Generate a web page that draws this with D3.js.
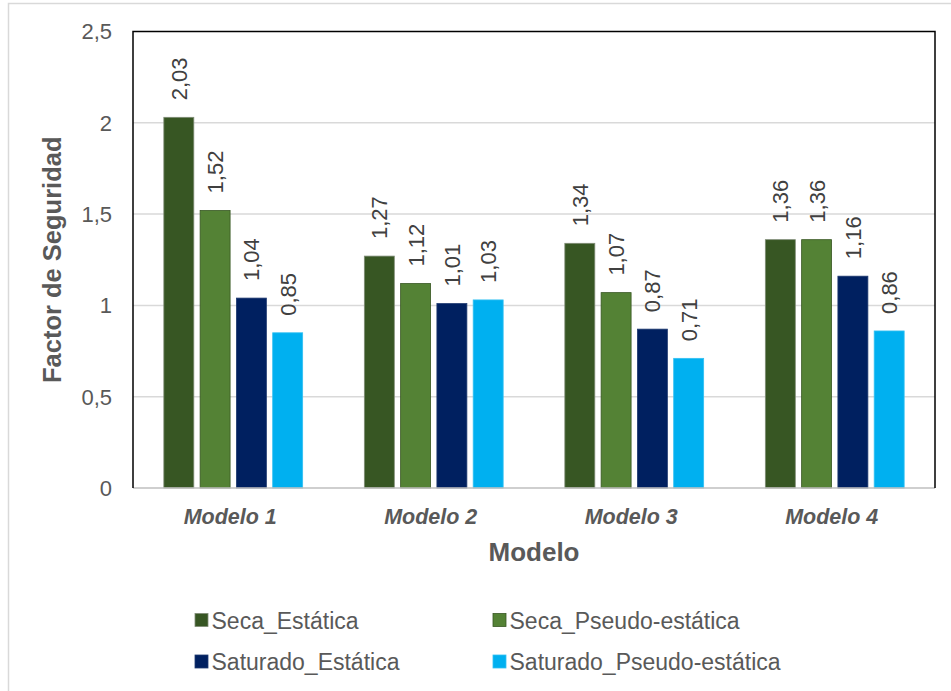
<!DOCTYPE html>
<html>
<head>
<meta charset="utf-8">
<script src="https://cdn.jsdelivr.net/npm/d3@7"></script>
<style>
  body { margin: 0; background: #fff; }
  svg { font-family: "Liberation Sans", Arial, sans-serif; }
</style>
</head>
<body>
<div class="chart"></div>
<script>
// chart data
var modelos = ["Modelo 1", "Modelo 2", "Modelo 3", "Modelo 4"];
var series = ["Seca_Estática", "Seca_Pseudo-estática", "Saturado_Estática", "Saturado_Pseudo-estática"];
var secaEstatica = [2.03, 1.27, 1.34, 1.36];
var secaPseudo = [1.52, 1.12, 1.07, 1.36];
var saturadoEstatica = [1.04, 1.01, 0.87, 1.16];
var saturadoPseudo = [0.85, 1.03, 0.71, 0.86];
var yTicks = [0, 0.5, 1, 1.5, 2, 2.5];

var colores = ["#375623", "#548235", "#002060", "#00B0F0"];
var bordes = ["#7f8c76", "#385723", "#1f3a70", "#33c0f2"];

var valores = [secaEstatica, secaPseudo, saturadoEstatica, saturadoPseudo];

var W = 951, H = 691;
// plot area edges (note: "top" is reserved on window, so use pTop etc)
var pLeft = 133, pRight = 935, pTop = 31.5, pBottom = 488;

var svg = d3.select("div.chart").append("svg")
    .attr("width", W)
    .attr("height", H);

// outer frame (cut by the window on the right / bottom)
svg.append("rect")
    .attr("x", 8.5).attr("y", 3.5)
    .attr("width", 1000).attr("height", 1000)
    .attr("fill", "none")
    .attr("stroke", "#d9d9d9")
    .attr("stroke-width", 1.5);

var x0 = d3.scaleBand().domain(modelos).range([pLeft, pRight]);
var x1 = d3.scaleBand().domain(series).range([0, x0.bandwidth()])
    .paddingInner(0.174).paddingOuter(0.85);
var y = d3.scaleLinear().domain([0, 2.5]).range([pBottom, pTop]);

// gridlines
svg.append("g").selectAll("line")
    .data(yTicks.filter(function(d){ return d > 0 && d < 2.5; }))
    .enter().append("line")
    .attr("x1", pLeft).attr("x2", pRight)
    .attr("y1", function(d){ return y(d); })
    .attr("y2", function(d){ return y(d); })
    .attr("stroke", "#d9d9d9")
    .attr("stroke-width", 1.5);

// bars
var grupos = svg.append("g").selectAll("g")
    .data(modelos)
    .enter().append("g")
    .attr("transform", function(d){ return "translate(" + x0(d) + ",0)"; });

grupos.selectAll("rect")
    .data(function(d, i){ return series.map(function(s, j){ return {s: s, j: j, v: valores[j][i]}; }); })
    .enter().append("rect")
    .attr("x", function(d){ return x1(d.s); })
    .attr("width", x1.bandwidth())
    .attr("y", function(d){ return y(d.v); })
    .attr("height", function(d){ return y(0) - y(d.v); })
    .attr("fill", function(d){ return colores[d.j]; })
    .attr("stroke", function(d){ return bordes[d.j]; })
    .attr("stroke-width", 0.8);

// data labels (rotated)
grupos.selectAll("text")
    .data(function(d, i){ return series.map(function(s, j){ return {s: s, j: j, v: valores[j][i]}; }); })
    .enter().append("text")
    .attr("transform", function(d){
      return "translate(" + (x1(d.s) + x1.bandwidth() / 2) + "," + (y(d.v) - 17) + ")rotate(-90)";
    })
    .attr("dy", "0.36em")
    .attr("font-size", "22px")
    .attr("fill", "#404040")
    .text(function(d){ return d3.format(".2f")(d.v).replace(".", ","); });

// baseline + frame
svg.append("line")
    .attr("x1", pLeft).attr("x2", pRight)
    .attr("y1", pBottom).attr("y2", pBottom)
    .attr("stroke", "#bfbfbf").attr("stroke-width", 1.5);
svg.append("path")
    .attr("d", "M" + pLeft + "," + pBottom + "V" + pTop + "H" + pRight + "V" + pBottom)
    .attr("fill", "none")
    .attr("stroke", "#000")
    .attr("stroke-width", 1.5);

// y tick labels
svg.append("g").selectAll("text")
    .data(yTicks)
    .enter().append("text")
    .attr("x", 112)
    .attr("y", function(d){ return y(d); })
    .attr("dy", "0.36em")
    .attr("text-anchor", "end")
    .attr("font-size", "22px")
    .attr("fill", "#595959")
    .text(function(d){ return String(d).replace(".", ","); });

// x category labels
svg.append("g").selectAll("text")
    .data(modelos)
    .enter().append("text")
    .attr("x", function(d){ return x0(d) + x0.bandwidth() / 2 - 3; })
    .attr("y", 524)
    .attr("text-anchor", "middle")
    .attr("font-size", "21.5px")
    .attr("font-weight", "bold")
    .attr("font-style", "italic")
    .attr("fill", "#595959")
    .text(function(d){ return d; });

// axis titles
svg.append("text")
    .attr("x", (pLeft + pRight) / 2)
    .attr("y", 561)
    .attr("text-anchor", "middle")
    .attr("font-size", "26px")
    .attr("font-weight", "bold")
    .attr("fill", "#595959")
    .text("Modelo");

svg.append("text")
    .attr("transform", "translate(61," + ((pTop + pBottom) / 2) + ")rotate(-90)")
    .attr("text-anchor", "middle")
    .attr("font-size", "25.5px")
    .attr("font-weight", "bold")
    .attr("fill", "#595959")
    .text("Factor de Seguridad");

// legend
var legX = [195, 493], legY = [613.5, 655];
var leyenda = svg.append("g").selectAll("g")
    .data(series)
    .enter().append("g")
    .attr("transform", function(d, i){ return "translate(" + legX[i % 2] + "," + legY[Math.floor(i / 2)] + ")"; });

leyenda.append("rect")
    .attr("width", 13).attr("height", 13)
    .attr("fill", function(d, i){ return colores[i]; })
    .attr("stroke", function(d, i){ return bordes[i]; })
    .attr("stroke-width", 0.8);

leyenda.append("text")
    .attr("x", 16.5)
    .attr("y", 15)
    .attr("font-size", "23px")
    .attr("fill", "#595959")
    .text(function(d){ return d; });
</script>
</body>
</html>
